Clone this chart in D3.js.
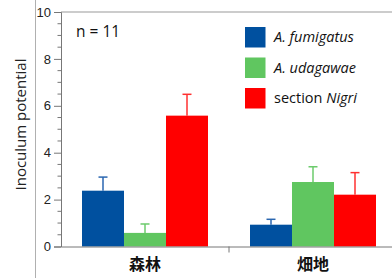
<!DOCTYPE html>
<html><head><meta charset="utf-8">
<script src="https://cdn.jsdelivr.net/npm/d3@7"></script>
<style>body{margin:0;background:#fff;}svg{display:block;}</style>
</head><body>
<script>
const categories = ["森林", "畑地"];
const seriesNames = ["A. fumigatus", "A. udagawae", "section Nigri"];
const means = [[2.38, 0.58, 5.58], [0.93, 2.75, 2.21]];
const errors = [[0.58, 0.38, 0.91], [0.23, 0.65, 0.94]];
const yTicks = [0, 2, 4, 6, 8, 10];
const colors = ["#00509f", "#60c660", "#ff0000"];
const errColors = ["#2a66b0", "#6ccb6c", "#ff3030"];

const W = 392, H = 278;
const svg = d3.select("body").append("svg").attr("width", W).attr("height", H);

const y = d3.scaleLinear().domain([0, 10]).range([246.5, 12]);
const x0 = d3.scaleBand().domain(categories).range([61, 397]).paddingInner(0).paddingOuter(0);
const x1 = d3.scaleBand().domain(d3.range(3)).range([21, 147]);

// outer left line
svg.append("line").attr("x1", 35.5).attr("x2", 35.5).attr("y1", 0).attr("y2", H).attr("stroke", "#b0b0b0").attr("stroke-width", 1);
// top frame line
svg.append("line").attr("x1", 61).attr("x2", W).attr("y1", y(10)).attr("y2", y(10)).attr("stroke", "#999").attr("stroke-width", 1.2);

// bars
const g = svg.append("g");
categories.forEach((c, i) => {
  means[i].forEach((v, j) => {
    const bx = x0(c) + x1(j);
    g.append("rect").attr("x", bx).attr("y", y(v)).attr("width", x1.bandwidth()).attr("height", y(0) - y(v)).attr("fill", colors[j]);
    const cx = bx + x1.bandwidth() / 2;
    g.append("line").attr("x1", cx).attr("x2", cx).attr("y1", y(v)).attr("y2", y(v + errors[i][j])).attr("stroke", errColors[j]).attr("stroke-width", 1.5);
    g.append("line").attr("x1", cx - 4.5).attr("x2", cx + 4.5).attr("y1", y(v + errors[i][j])).attr("y2", y(v + errors[i][j])).attr("stroke", errColors[j]).attr("stroke-width", 1.5);
  });
});

// y axis
const yAxis = d3.axisLeft(y).tickValues(yTicks).tickSize(7).tickPadding(3).tickFormat(d3.format("d"));
const ya = svg.append("g").attr("transform", "translate(61,0)").call(yAxis);
ya.select(".domain").attr("stroke", "#777");
ya.selectAll(".tick line").attr("stroke", "#777");
ya.selectAll("text").attr("font-family", "Liberation Sans, Arial, sans-serif").attr("font-size", 13).attr("fill", "#222");
const minor = d3.range(0, 10.01, 0.5).filter(v => !yTicks.includes(v));
svg.append("g").selectAll("line").data(minor).join("line")
  .attr("x1", 57.5).attr("x2", 61).attr("y1", d => y(d)).attr("y2", d => y(d)).attr("stroke", "#777");

// x axis
const xa = svg.append("g").attr("transform", `translate(0,${y(0)})`).call(d3.axisBottom(x0).tickSize(0).tickPadding(12));
xa.select(".domain").attr("stroke", "#777");
xa.selectAll("text").attr("font-family", "Noto Sans CJK JP, sans-serif").attr("font-weight", "bold").attr("font-size", 16).attr("fill", "#111");
svg.append("line").attr("x1", x0(categories[1])).attr("x2", x0(categories[1])).attr("y1", y(0)).attr("y2", y(0) + 6).attr("stroke", "#777");

// y label
svg.append("text").attr("transform", "translate(26,124.5) rotate(-90)").attr("text-anchor", "middle")
  .attr("font-family", "Open Sans, sans-serif").attr("font-size", 15).attr("fill", "#222").text("Inoculum potential");

// n = 11
svg.append("text").attr("x", 76).attr("y", 37).attr("font-family", "Open Sans, sans-serif").attr("font-size", 15.5).attr("fill", "#111").text("n = 11");

// legend
const lg = svg.append("g");
seriesNames.forEach((s, j) => {
  const ly = 27 + j * 30.5;
  lg.append("rect").attr("x", 245).attr("y", ly).attr("width", 20.5).attr("height", 20.5).attr("fill", colors[j]);
  const t = lg.append("text").attr("x", 274).attr("y", ly + 15).attr("font-family", "Open Sans, sans-serif").attr("font-size", 14.5).attr("fill", "#111");
  if (s.startsWith("section")) {
    t.append("tspan").text("section ");
    t.append("tspan").attr("font-style", "italic").text("Nigri");
  } else {
    t.attr("font-style", "italic").text(s);
  }
});
</script>
</body></html>
